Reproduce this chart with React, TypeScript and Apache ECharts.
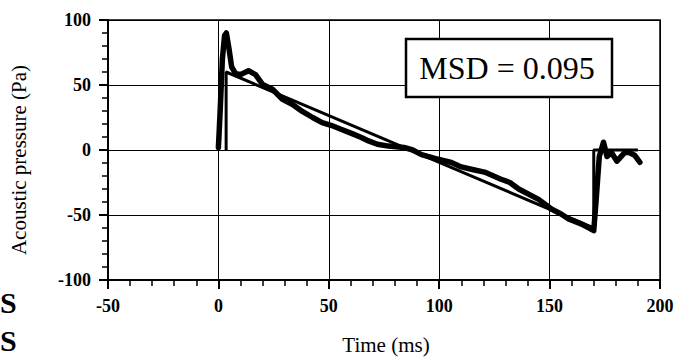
import React, { useEffect, useRef } from "react";
import * as echarts from "echarts";

const measuredT = [0, 0.8, 1.8, 2.8, 3.6, 4.8, 6, 7.7, 10, 13.6, 16.8, 20, 24.5, 29, 33.6, 38, 42.7, 47, 51, 55.5, 60, 64.5, 68, 72, 77, 84, 88, 92, 98, 105.5, 110, 115, 120.5, 128, 132, 136, 145, 151, 155, 158.6, 164.5, 170, 171, 172.5, 174.4, 176, 178, 180.5, 184, 186, 188.5, 190.9];
const measuredP = [2, 30, 70, 88, 90, 78, 64, 59, 58, 61, 58, 50.5, 46.7, 39, 35, 29.7, 25, 21, 19, 16, 13, 9.8, 7, 4.4, 3, 2, 0, -3.6, -6.5, -9.6, -13, -15, -17, -22.5, -25, -30, -38, -45.6, -49, -53, -57, -62, -40, -5, 6, -5, -2, -8.6, -2, -2, -4, -9.5];

const theoryT = [3.5, 3.5, 170, 170, 190];
const theoryP = [0, 60, -60, 0, 0];

const xTicks = [-50, 0, 50, 100, 150, 200];
const yTicks = [-100, -50, 0, 50, 100];

export default function App() {
  const ref = useRef<HTMLDivElement>(null);
  useEffect(() => {
    if (!ref.current) return;
    const chart = echarts.init(ref.current, null, { renderer: "svg" });
    const font = "'Liberation Serif', 'DejaVu Serif', serif";
    const axisCommon = {
      axisLine: { show: true, onZero: false, lineStyle: { color: "#000", width: 2 } },
      axisTick: { show: true, inside: false, length: 9, lineStyle: { color: "#000", width: 2 } },
      minorTick: { show: true, splitNumber: 5, length: 6, lineStyle: { color: "#000", width: 1.5 } },
      splitLine: { show: true, lineStyle: { color: "#000", width: 1 } },
      minorSplitLine: { show: false },
    };
    chart.setOption({
      animation: false,
      backgroundColor: "#fff",
      grid: { left: 108, right: 23, top: 20, bottom: 80, show: true, borderColor: "#000", borderWidth: 1.5, backgroundColor: "transparent" },
      xAxis: {
        type: "value",
        min: xTicks[0],
        max: xTicks[xTicks.length - 1],
        interval: 50,
        ...axisCommon,
        axisLabel: { color: "#000", fontFamily: font, fontWeight: "bold", fontSize: 18, margin: 17 },
        name: "Time (ms)",
        nameLocation: "middle",
        nameGap: 54,
        nameTextStyle: { color: "#000", fontFamily: font, fontSize: 21, padding: [0, 0, 0, 4] },
      },
      yAxis: {
        type: "value",
        min: yTicks[0],
        max: yTicks[yTicks.length - 1],
        interval: 50,
        ...axisCommon,
        axisLabel: { color: "#000", fontFamily: font, fontWeight: "bold", fontSize: 18, margin: 17 },
        name: "Acoustic pressure (Pa)",
        nameLocation: "middle",
        nameGap: 79,
        nameTextStyle: { color: "#000", fontFamily: font, fontSize: 21, padding: [0, 20, 0, 0] },
      },
      series: [
        {
          type: "line",
          name: "theory",
          data: theoryT.map((t, i) => [t, theoryP[i]]),
          showSymbol: false,
          lineStyle: { color: "#000", width: 3 },
          z: 3,
        },
        {
          type: "line",
          name: "measured",
          data: measuredT.map((t, i) => [t, measuredP[i]]),
          showSymbol: false,
          lineStyle: { color: "#000", width: 5.5, join: "round", cap: "round" },
          z: 4,
        },
      ],
      graphic: [
        {
          type: "rect",
          shape: { x: 406, y: 39, width: 206, height: 58 },
          style: { fill: "#fff", stroke: "#000", lineWidth: 2.5 },
          z: 10,
        },
        {
          type: "text",
          x: 507,
          y: 68,
          style: { text: "MSD = 0.095", fontFamily: font, fontSize: 32, fill: "#000", align: "center", verticalAlign: "middle" },
          z: 11,
        },
        {
          type: "text",
          x: 0,
          y: 302,
          style: { text: "S", fontFamily: font, fontWeight: "bold", fontSize: 30, fill: "#000", verticalAlign: "middle" },
        },
        {
          type: "text",
          x: 0,
          y: 340,
          style: { text: "S", fontFamily: font, fontWeight: "bold", fontSize: 30, fill: "#000", verticalAlign: "middle" },
        },
      ],
    });
    return () => chart.dispose();
  }, []);
  return <div ref={ref} style={{ position: "absolute", left: 0, top: 0, width: 683, height: 360 }} />;
}
